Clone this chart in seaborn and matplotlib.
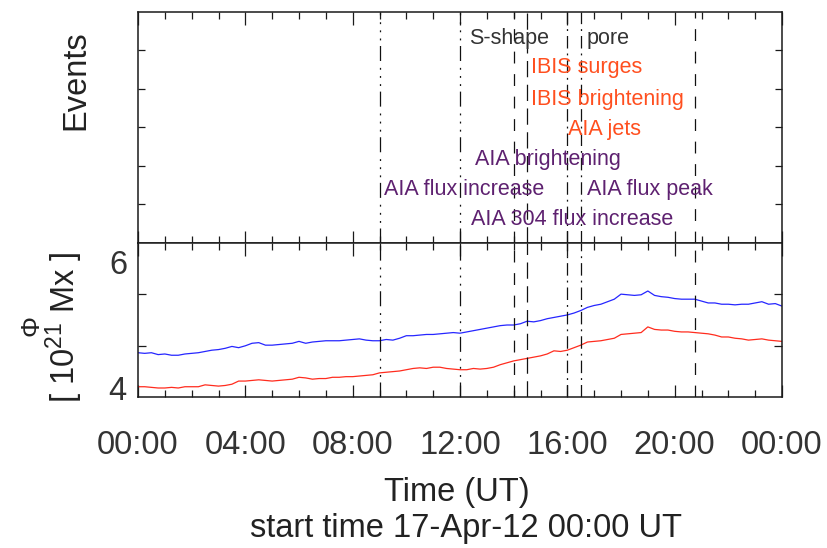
import matplotlib
matplotlib.use("Agg")
import matplotlib.pyplot as plt
import numpy as np
import pandas as pd
import seaborn as sns
from matplotlib import font_manager as fm
from matplotlib.ticker import FixedLocator, NullFormatter

# ---------------- data ----------------
hours = [i * 0.25 for i in range(97)]

flux_blue = [4.56, 4.55, 4.56, 4.53, 4.54, 4.52, 4.52, 4.54, 4.55, 4.56,
             4.58, 4.60, 4.61, 4.63, 4.66, 4.64, 4.67, 4.71, 4.72, 4.68,
             4.68, 4.69, 4.70, 4.71, 4.74, 4.71, 4.73, 4.74, 4.75, 4.75,
             4.75, 4.76, 4.77, 4.78, 4.76, 4.75, 4.75, 4.77, 4.76, 4.79,
             4.83, 4.83, 4.84, 4.85, 4.85, 4.86, 4.87, 4.88, 4.87, 4.89,
             4.91, 4.93, 4.95, 4.97, 4.99, 5.00, 5.00, 5.02, 5.06, 5.05,
             5.07, 5.10, 5.12, 5.14, 5.16, 5.19, 5.23, 5.28, 5.31, 5.33,
             5.37, 5.41, 5.49, 5.48, 5.47, 5.48, 5.54, 5.47, 5.45, 5.44,
             5.42, 5.41, 5.41, 5.41, 5.38, 5.35, 5.35, 5.33, 5.33, 5.32,
             5.33, 5.33, 5.35, 5.37, 5.33, 5.34, 5.30]

flux_red = [4.02, 4.02, 4.01, 4.00, 4.00, 4.01, 4.00, 4.02, 4.02, 4.02,
            4.05, 4.04, 4.03, 4.04, 4.06, 4.11, 4.11, 4.12, 4.13, 4.12,
            4.11, 4.12, 4.13, 4.14, 4.17, 4.16, 4.14, 4.15, 4.15, 4.17,
            4.17, 4.18, 4.18, 4.19, 4.20, 4.21, 4.24, 4.25, 4.26, 4.27,
            4.29, 4.31, 4.32, 4.31, 4.33, 4.33, 4.31, 4.30, 4.29, 4.29,
            4.31, 4.30, 4.31, 4.33, 4.37, 4.40, 4.43, 4.45, 4.47, 4.49,
            4.51, 4.54, 4.59, 4.58, 4.60, 4.64, 4.68, 4.73, 4.74, 4.75,
            4.77, 4.79, 4.85, 4.86, 4.87, 4.88, 4.97, 4.93, 4.92, 4.92,
            4.90, 4.89, 4.89, 4.88, 4.87, 4.86, 4.84, 4.81, 4.81, 4.79,
            4.78, 4.76, 4.77, 4.78, 4.76, 4.75, 4.74]

series_names = ["blue", "red"]
series_colors = ["#2626ff", "#ff2c1e"]

line_times = [9.0, 12.0, 14.0, 14.5, 16.0, 16.5, 20.75]
line_kinds = ["dddd", "dddd", "dash", "longdash", "dashdot", "dashdot", "dash"]

event_labels = ["S-shape", "pore", "IBIS surges", "IBIS brightening", "AIA jets",
                "AIA brightening", "AIA flux increase", "AIA flux peak",
                "AIA 304 flux increase"]
event_x = [12.32, 16.72, 14.65, 14.65, 16.03, 12.55, 9.18, 16.72, 12.42]
event_row = [5.30, 5.30, 4.55, 3.74, 2.96, 2.18, 1.38, 1.38, 0.60]
event_groups = ["obs", "obs", "ibis", "ibis", "ibis", "aia", "aia", "aia", "aia"]
group_colors = {"obs": "#333333", "ibis": "#ff4f1f", "aia": "#5e2170"}

xtick_hours = [0, 4, 8, 12, 16, 20, 24]
xtick_labels = ["00:00", "04:00", "08:00", "12:00", "16:00", "20:00", "00:00"]
ytick_vals = [4, 6]
ytick_labels = ["4", "6"]

# ---------------- style ----------------
sns.set_theme(style="white")
FONT = ["Liberation Sans", "DejaVu Sans"]
plt.rcParams["font.family"] = FONT
plt.rcParams["mathtext.fontset"] = "custom"
plt.rcParams["mathtext.rm"] = "Liberation Sans"
BIG = 23.5

W, H = 827, 548
fig = plt.figure(figsize=(W / 100, H / 100), dpi=100)
L, R = 138, 782
ax_top = fig.add_axes([L / W, 1 - 243 / H, (R - L) / W, 231 / H])
ax_bot = fig.add_axes([L / W, 1 - 397 / H, (R - L) / W, 154 / H])

styles = {
    "dddd": (0, (12, 4.5, 1.5, 5, 1.5, 5, 1.5, 5.5)),
    "dash": (0, (9.5, 8.5)),
    "longdash": (0, (13, 6)),
    "dashdot": (0, (10, 4, 1.5, 4)),
}

# curves
df = pd.DataFrame({
    "hour": hours + hours,
    "flux": flux_blue + flux_red,
    "series": [series_names[0]] * len(hours) + [series_names[1]] * len(hours),
})
sns.lineplot(data=df, x="hour", y="flux", hue="series",
             palette=dict(zip(series_names, series_colors)),
             estimator=None, linewidth=0.9, legend=False, ax=ax_bot)

for ax in (ax_top, ax_bot):
    for t, k in zip(line_times, line_kinds):
        ax.axvline(t, color="#111111", lw=0.9, linestyle=styles[k])
    ax.set_xlim(0, 24)
    for s in ax.spines.values():
        s.set_linewidth(1.1)
        s.set_color("#1a1a1a")
        s.set_visible(True)
    ax.set_xlabel("")
    ax.set_ylabel("")
    ax.set_facecolor("white")
    ax.xaxis.set_major_locator(FixedLocator(xtick_hours))
    ax.xaxis.set_minor_locator(FixedLocator(list(range(25))))
    ax.tick_params(axis="x", which="major", direction="in", length=9, width=0.9,
                   top=True, bottom=True, color="#1a1a1a")
    ax.tick_params(axis="x", which="minor", direction="in", length=5, width=0.9,
                   top=True, bottom=True, color="#1a1a1a")

# top panel: events
ax_top.set_ylim(0, 6)
ax_top.yaxis.set_major_locator(FixedLocator([1, 2, 3, 4, 5]))
ax_top.yaxis.set_major_formatter(NullFormatter())
ax_top.tick_params(axis="y", which="major", direction="in", length=5, width=0.9,
                   left=True, right=True, color="#1a1a1a")
ax_top.xaxis.set_major_formatter(NullFormatter())
for lab, x, y, g in zip(event_labels, event_x, event_row, event_groups):
    ax_top.text(x, y, lab, color=group_colors[g], fontsize=15.5,
                ha="left", va="center")

# bottom panel
ylo, yhi = 3.857, 6.302
ax_bot.set_ylim(ylo, yhi)
ax_bot.yaxis.set_major_locator(FixedLocator(ytick_vals))
ax_bot.set_yticklabels(ytick_labels)
ax_bot.yaxis.set_minor_locator(FixedLocator([ylo + (yhi - ylo) / 3, ylo + 2 * (yhi - ylo) / 3]))
ax_bot.tick_params(axis="y", which="major", length=0, pad=8, labelsize=BIG, labelcolor="#333333")
ax_bot.tick_params(axis="y", which="minor", direction="in", length=6, width=0.9,
                   left=True, right=True, color="#1a1a1a")
ax_bot.set_xticks(xtick_hours)
ax_bot.set_xticklabels(xtick_labels)
ax_bot.tick_params(axis="x", which="major", labelsize=BIG, pad=24, labelcolor="#333333")

# labels
fig.text(76 / W, 1 - 80 / H, "Events", rotation=90, ha="center", va="center",
         fontsize=BIG, color="#222222")
fig.text(32 / W, 1 - 325 / H, "Φ", rotation=90, ha="center", va="center",
         fontsize=19, color="#222222")
fig.text(64 / W, 1 - 327 / H, r"[ $\mathregular{10^{21}}$ Mx ]", rotation=90,
         ha="center", va="center", fontsize=BIG, color="#222222")
fig.text(457 / W, 1 - 492 / H, "Time (UT)", ha="center", va="center",
         fontsize=BIG, color="#222222")
fig.text(466 / W, 1 - 528 / H, "start time 17-Apr-12 00:00 UT", ha="center", va="center",
         fontsize=BIG, color="#222222")

fig.savefig("out.png", dpi=100, facecolor="white")
